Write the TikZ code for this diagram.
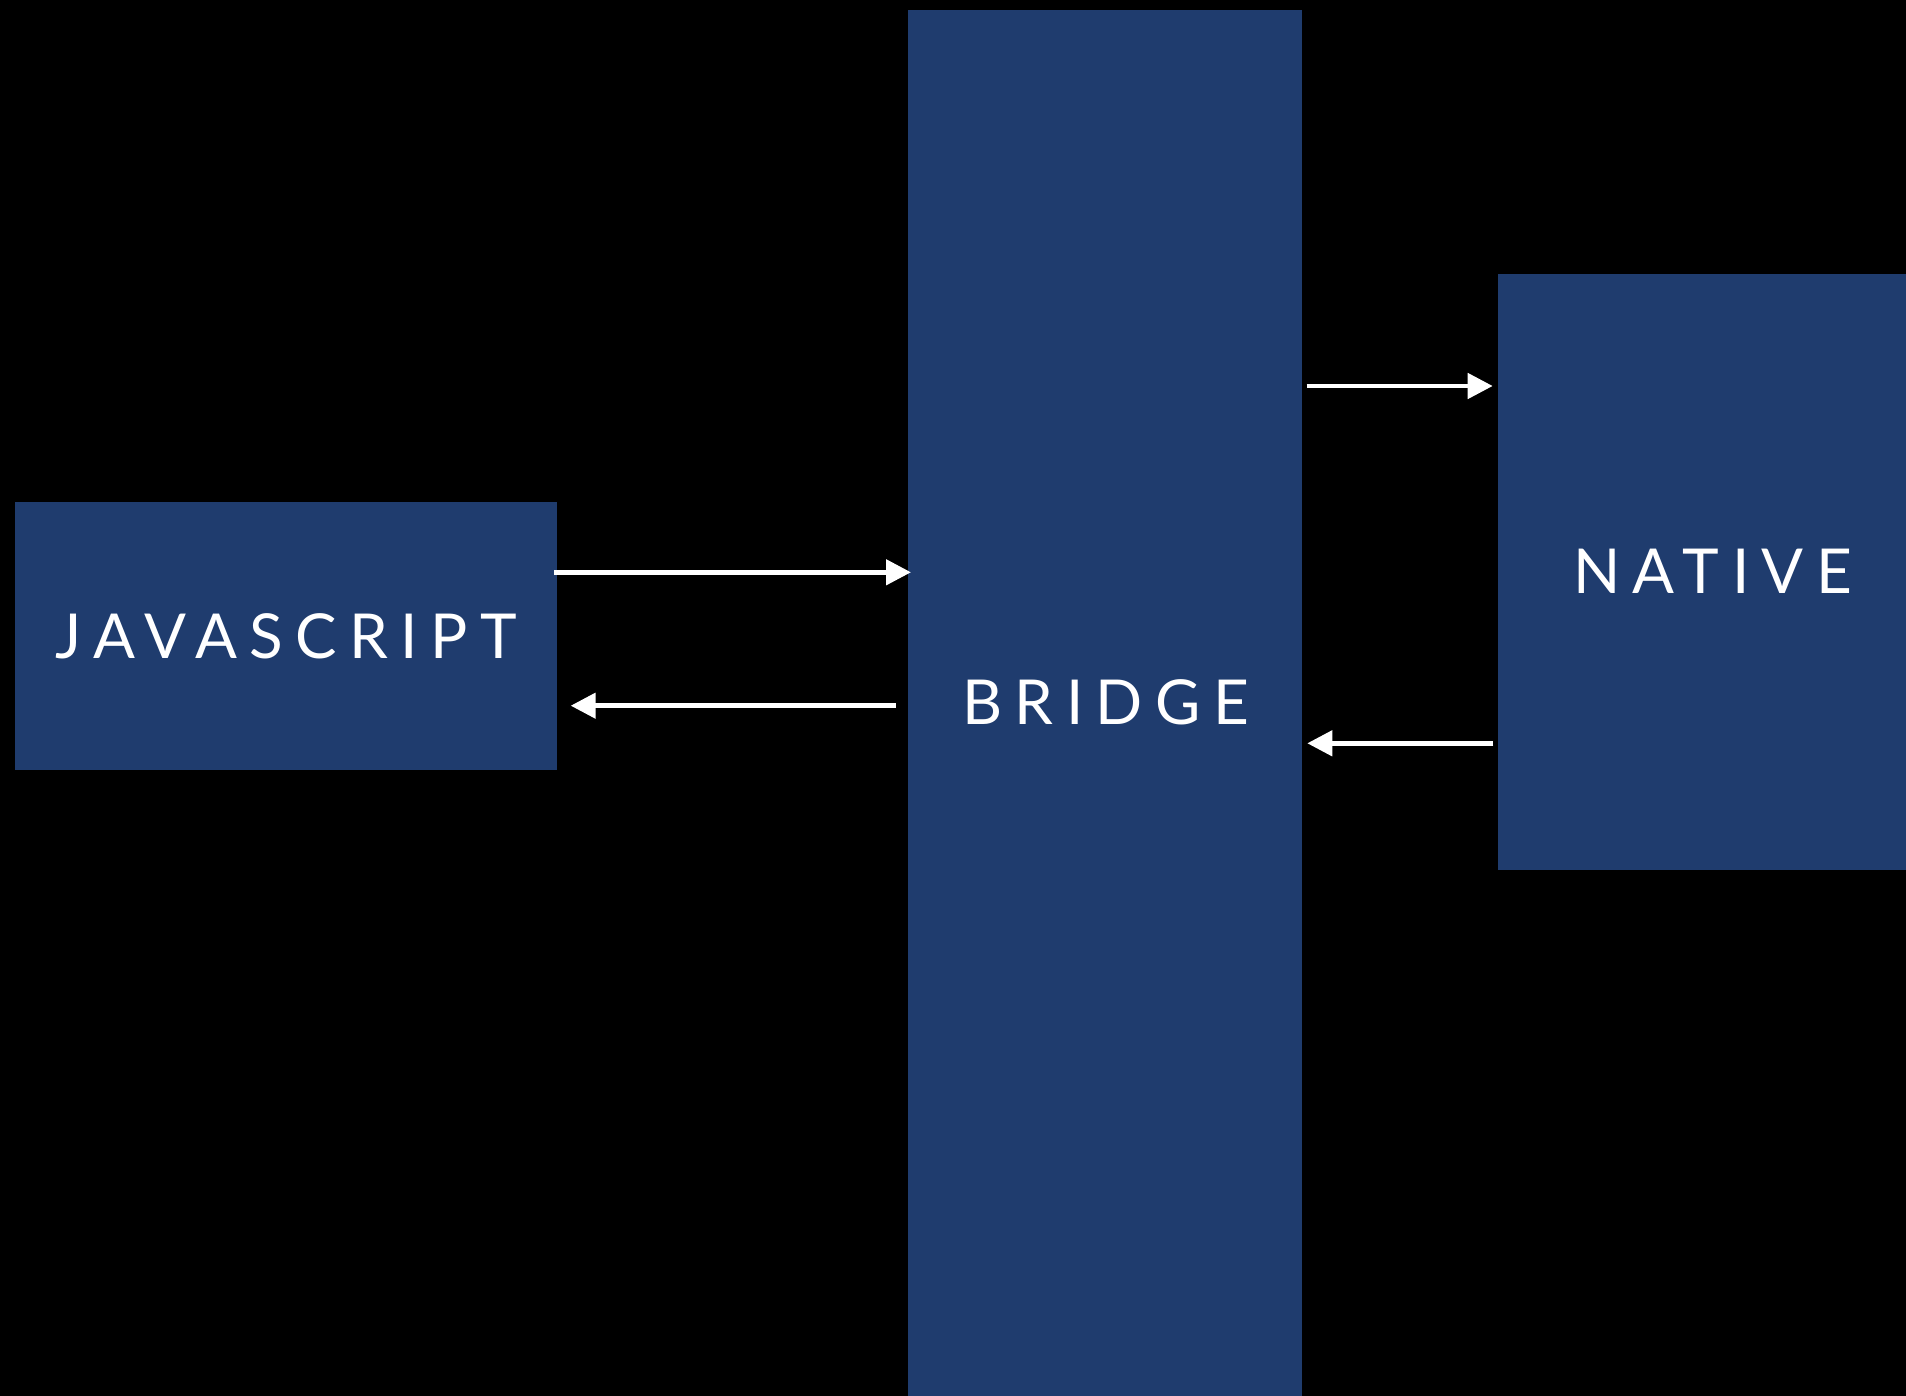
\documentclass[tikz,border=0pt]{standalone}
\usepackage{fontspec}
\setmainfont{Lato}
\usetikzlibrary{arrows.meta}
\definecolor{boxblue}{RGB}{31,60,110}
\newfontfamily\labelfont[LetterSpace=20]{Lato}
\begin{document}
\begin{tikzpicture}[x=1pt,y=-1pt,
  block/.style={fill=boxblue,draw=none,inner sep=0pt,outer sep=0pt,anchor=north west},
  lbl/.style={text=white,inner sep=0pt,anchor=base west,font=\labelfont\fontsize{62}{62}\selectfont},
  arr/.style={draw=white,line width=4.7pt,-{Triangle[length=25pt,width=25pt]}}]
\fill[black] (0,0) rectangle (1906,1396);
\useasboundingbox (0,0) rectangle (1906,1396);
\node[block,minimum width=542pt,minimum height=268pt] (js) at (14.6,502) {};
\node[block,minimum width=394pt,minimum height=1400pt] (bridge) at (908,10) {};
\node[block,minimum width=420pt,minimum height=596pt] (native) at (1498,274) {};
\node[lbl] (jst) at (55,658.3) {JAVASCRIPT};
\node[lbl] (brt) at (962,724) {BRIDGE};
\node[lbl] (nat) at (1573,593.3) {NATIVE};
\coordinate (a1s) at (554.3,572.3);
\coordinate (a1e) at (911,572.3);
\coordinate (a2s) at (895.7,705.7);
\coordinate (a2e) at (570.7,705.7);
\coordinate (a3s) at (1306.7,386);
\coordinate (a3e) at (1492.7,386);
\coordinate (a4s) at (1493.3,743.3);
\coordinate (a4e) at (1307.3,743.3);
\draw[arr] (a1s) -- (a1e);
\draw[arr] (a2s) -- (a2e);
\draw[arr] (a3s) -- (a3e);
\draw[arr] (a4s) -- (a4e);
\end{tikzpicture}
\end{document}
